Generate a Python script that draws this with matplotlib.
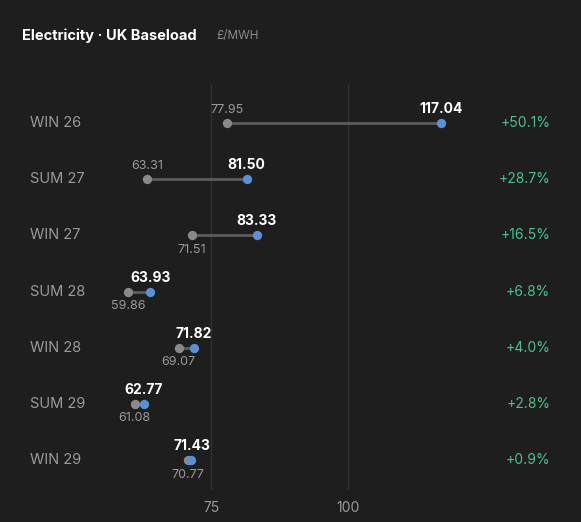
import matplotlib
matplotlib.use("Agg")
import matplotlib.pyplot as plt

contracts = ["WIN 26", "SUM 27", "WIN 27", "SUM 28", "WIN 28", "SUM 29", "WIN 29"]
old_vals = [77.95, 63.31, 71.51, 59.86, 69.07, 61.08, 70.77]
new_vals = [117.04, 81.50, 83.33, 63.93, 71.82, 62.77, 71.43]
changes = ["+50.1%", "+28.7%", "+16.5%", "+6.8%", "+4.0%", "+2.8%", "+0.9%"]
ticks = [75, 100]

BG = "#1e1e1e"
plt.rcParams['font.family'] = ['Inter', 'DejaVu Sans']
fig = plt.figure(figsize=(5.81, 5.22), dpi=100, facecolor=BG)
ax = fig.add_axes([100/581, 1-490/522, 370/581, 405/522], facecolor=BG)
ax.set_xlim(54.74, 122.26)
ax.set_ylim(6.53, -0.676)
for s in ax.spines.values():
    s.set_visible(False)
ax.set_yticks([])
ax.set_xticks(ticks)
ax.tick_params(axis='x', length=0, colors="#9a9a9a", labelsize=10, pad=8)
for t in ticks:
    ax.axvline(t, color="#333333", lw=0.8, zorder=0)

for i, (c, o, n, ch) in enumerate(zip(contracts, old_vals, new_vals, changes)):
    ax.plot([o, n], [i, i], color="#5c5c5c", lw=2, zorder=1)
    ax.scatter([o], [i], s=45, color="#8a8a8a", zorder=2, linewidths=0)
    ax.scatter([n], [i], s=45, color="#5b8fd6", zorder=3, linewidths=0)
    ax.annotate(f"{n:.2f}", (n, i), xytext=(0, 5), textcoords="offset points",
                ha="center", va="bottom", color="white", fontsize=10, fontweight="bold")
    if i < 2:
        ax.annotate(f"{o:.2f}", (o, i), xytext=(0, 5), textcoords="offset points",
                    ha="center", va="bottom", color="#9a9a9a", fontsize=9)
    else:
        ax.annotate(f"{o:.2f}", (o, i), xytext=(0, -6), textcoords="offset points",
                    ha="center", va="top", color="#9a9a9a", fontsize=9)
    ax.text(-70/370, i, c, transform=ax.get_yaxis_transform(), color="#9a9a9a",
            fontsize=10.5, va="center", ha="left")
    ax.text(80/370 + 1, i, ch, transform=ax.get_yaxis_transform(), color="#4fc08d",
            fontsize=10, va="center", ha="right")

fig.text(22/581, 1-36/522, "Electricity · UK Baseload", color="white", fontsize=10.5,
         fontweight="bold", va="center", ha="left")
fig.text(216/581, 1-36/522, "£/MWH", color="#8a8a8a", fontsize=8.5, va="center", ha="left")

fig.savefig("out.png", dpi=100, facecolor=BG)
